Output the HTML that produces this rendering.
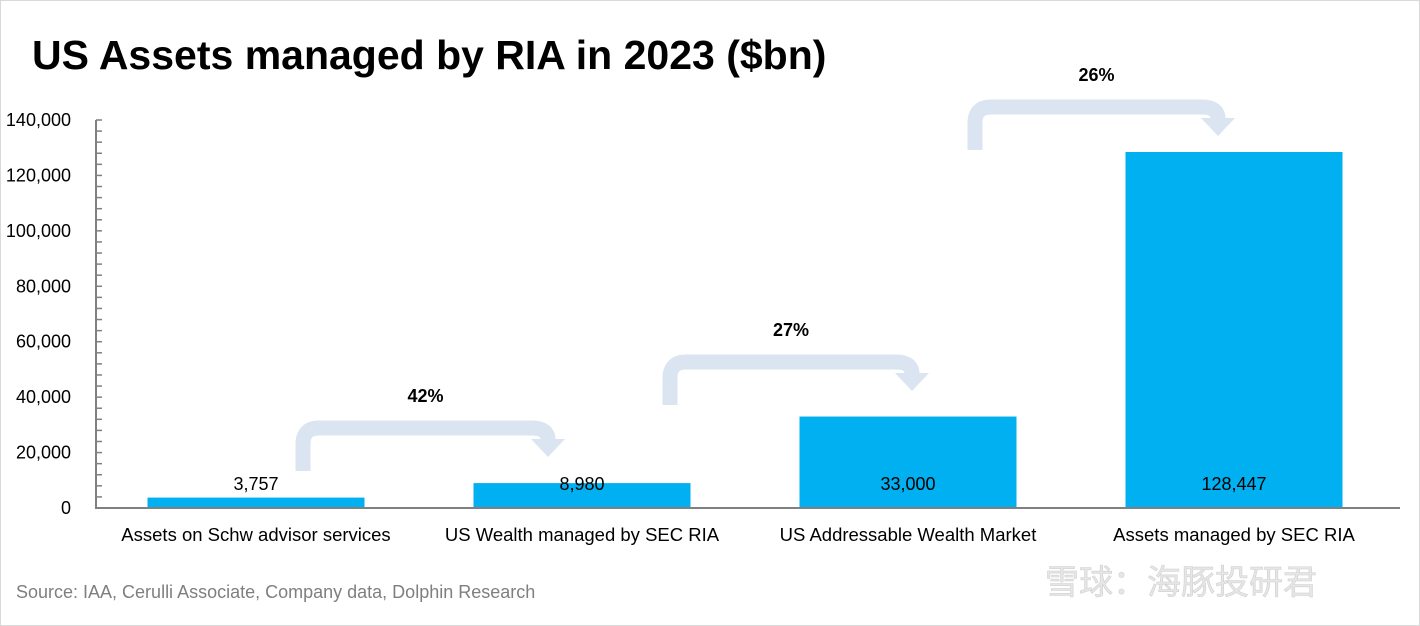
<!DOCTYPE html>
<html><head><meta charset="utf-8"><style>
body{margin:0;background:#fff;}
svg{display:block;font-family:"Liberation Sans","Noto Sans CJK SC",sans-serif;}
</style></head><body>
<svg id="c" width="1420" height="626">
<rect x="0.5" y="0.5" width="1419" height="625" fill="#fff" stroke="#d9d9d9"/>
<text x="32" y="69" font-size="41" font-weight="bold" fill="#000">US Assets managed by RIA in 2023 ($bn)</text>
<text x="16" y="598" font-size="18" fill="#7f7f7f">Source: IAA, Cerulli Associate, Company data, Dolphin Research</text>
<text x="1045" y="594" font-size="34" fill="#e6e6e6" stroke="#d0d0d0" stroke-width="0.6">雪球：海豚投研君</text>
<g id="plot"></g>
</svg>
<script>
const categories=["Assets on Schw advisor services","US Wealth managed by SEC RIA","US Addressable Wealth Market","Assets managed by SEC RIA"];
const values=[3757,8980,33000,128447];
const valueLabels=["3,757","8,980","33,000","128,447"];
const yTicks=[0,20000,40000,60000,80000,100000,120000,140000];
const yTickLabels=["0","20,000","40,000","60,000","80,000","100,000","120,000","140,000"];
const growthLabels=["42%","27%","26%"];
const NS="http://www.w3.org/2000/svg";
const g=document.getElementById("plot");
const X0=93,BAND=326,Y0=508,YTOP=120,YMAX=140000,BW=217;
const y=v=>Y0-(v/YMAX)*(Y0-YTOP);
const xc=i=>X0+BAND*(i+0.5);
// arrow layout (styling offsets)
const arrowStartOff=[47,88,67], arrowEndOff=[-34,4,-16], arrowTop=[428,362,107];
function mk(t,a){const e=document.createElementNS(NS,t);for(const k in a)e.setAttribute(k,a[k]);g.appendChild(e);return e;}
for(let i=0;i<growthLabels.length;i++){
  const sx=xc(i)+arrowStartOff[i], ex=xc(i+1)+arrowEndOff[i];
  const topY=arrowTop[i], sy=topY+43;
  const p=mk("path",{d:`M${sx} ${sy} V${topY+16} Q${sx} ${topY} ${sx+16} ${topY} H${ex-16} Q${ex} ${topY} ${ex} ${topY+12}`,fill:"none",stroke:"#dbe5f1","stroke-width":15});
  
  
  const h=mk("polygon",{points:`${ex-17},${topY+11} ${ex+17},${topY+11} ${ex},${topY+29}`,fill:"#dbe5f1"});
  
  
  const t=mk("text",{x:(sx+ex)/2,y:topY-26,"text-anchor":"middle","font-size":18,"font-weight":"bold",fill:"#000"});
  t.textContent=growthLabels[i];
  
  
}
values.forEach((v,i)=>{
  const r=mk("rect",{x:xc(i)-BW/2,y:y(v),width:BW,height:Y0-y(v),fill:"#00b0f0"});
  
  
  const t=mk("text",{x:xc(i),y:490,"text-anchor":"middle","font-size":18,fill:"#000"});
  t.textContent=valueLabels[i];
  
  
  const c=mk("text",{x:xc(i),y:541,"text-anchor":"middle","font-size":18.5,fill:"#000"});
  c.textContent=categories[i];
  
  
});
const ax=mk("line",{x1:96,y1:YTOP,x2:96,y2:Y0,stroke:"#808080","stroke-width":2});


const bx=mk("line",{x1:95,y1:Y0,x2:1400,y2:Y0,stroke:"#808080","stroke-width":2});


for(let v=0;v<=YMAX;v+=4000){
  const tk=mk("line",{x1:96,y1:y(v),x2:102,y2:y(v),stroke:"#808080","stroke-width":1.5});
  
  
}
yTicks.forEach((v,i)=>{
  const t=mk("text",{x:71,y:y(v)+6,"text-anchor":"end","font-size":18,fill:"#000"});
  t.textContent=yTickLabels[i];
  
  
});
</script>
</body></html>
